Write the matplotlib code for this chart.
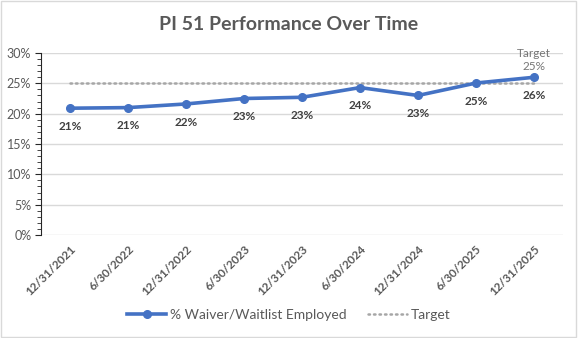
import matplotlib.pyplot as plt
from matplotlib.ticker import MultipleLocator, FuncFormatter
from matplotlib.patches import Rectangle

plt.rcParams['font.family'] = ['Lato', 'DejaVu Sans']

dates = ['12/31/2021', '6/30/2022', '12/31/2022', '6/30/2023', '12/31/2023',
         '6/30/2024', '12/31/2024', '6/30/2025', '12/31/2025']
employed = [20.9, 21.0, 21.6, 22.5, 22.7, 24.3, 23.0, 25.05, 26.0]
labels = ['21%', '21%', '22%', '23%', '23%', '24%', '23%', '25%', '26%']
target = [25] * len(dates)

blue = '#4472C4'
grey_txt = '#595959'

fig = plt.figure(figsize=(5.78, 3.38), dpi=100)
ax = fig.add_axes([41 / 578, 103 / 338, 522 / 578, 182 / 338])

x = list(range(len(dates)))
ax.plot(x, target, color='#A6A6A6', lw=1.8, linestyle=(0, (0.6, 1.6)),
        dash_capstyle='round', label='Target', zorder=2)
ax.plot(x, employed, color=blue, lw=2.6, marker='o', markersize=5.5,
        label='% Waiver/Waitlist Employed', zorder=3)

for xi, v, t in zip(x, employed, labels):
    ax.annotate(t, (xi, v), xytext=(0, -13), textcoords='offset points',
                ha='center', va='center', fontsize=8.5, fontweight='bold',
                color='#404040')
ax.annotate('Target\n25%', (x[-1], employed[-1]), xytext=(0, 4),
            textcoords='offset points', ha='center', va='bottom',
            fontsize=8.5, color='#767676', linespacing=1.2)

ax.set_xlim(-0.5, len(dates) - 0.5)
ax.set_ylim(0, 30)
ax.yaxis.set_major_locator(MultipleLocator(5))
ax.yaxis.set_minor_locator(MultipleLocator(1))
ax.yaxis.set_major_formatter(FuncFormatter(lambda v, p: f'{v:.0f}%'))
ax.grid(axis='y', color='#D9D9D9', lw=1)
ax.set_axisbelow(True)

for s in ['top', 'right', 'bottom']:
    ax.spines[s].set_visible(False)
ax.spines['left'].set_color('#262626')
ax.tick_params(axis='y', which='major', length=4, color='#262626',
               labelsize=9, labelcolor=grey_txt, pad=3)
ax.tick_params(axis='y', which='minor', length=3, color='#262626')
ax.set_xticks(x)
ax.set_xticklabels(dates, rotation=45, ha='right', va='top',
                   rotation_mode='anchor', fontsize=8.5, fontweight='bold',
                   color=grey_txt)
ax.tick_params(axis='x', length=0, pad=6)

fig.text(0.5, 1 - 24 / 338, 'PI 51 Performance Over Time', ha='center',
         va='center', fontsize=14, fontweight='bold', color=grey_txt)

handles, lbls = ax.get_legend_handles_labels()
fig.legend(handles[::-1], lbls[::-1], loc='center', ncol=2,
           bbox_to_anchor=(0.5, 1 - 315 / 338), frameon=False, fontsize=10,
           labelcolor=grey_txt, handlelength=2.8, columnspacing=1.5,
           handletextpad=0.3)

fig.patches.append(Rectangle((0.002, 0.003), 0.995, 0.994,
                             transform=fig.transFigure, fill=False,
                             edgecolor='#D9D9D9', lw=1))

fig.savefig('out.png', dpi=100)
